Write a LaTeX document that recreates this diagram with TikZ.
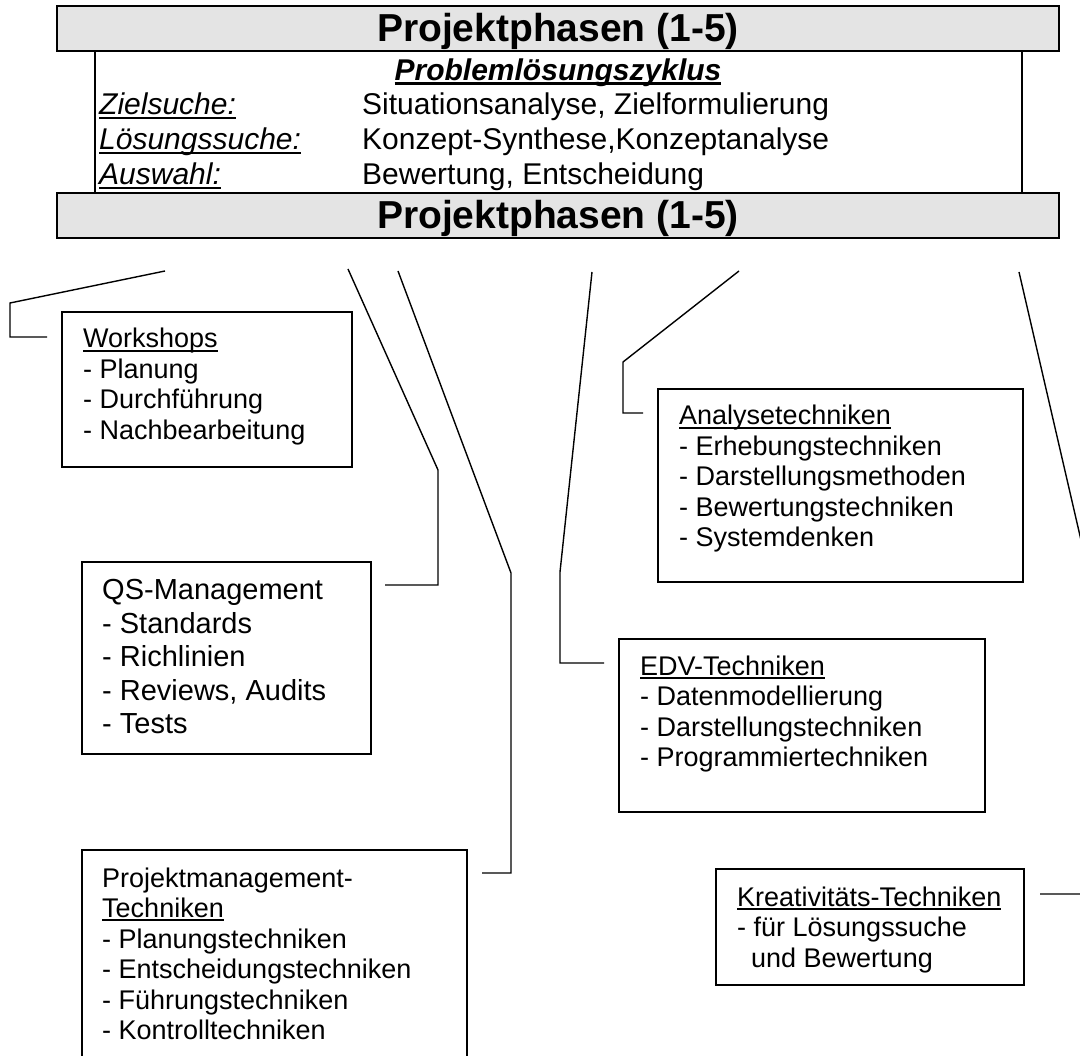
\documentclass[tikz,border=0pt]{standalone}
\usepackage{fontspec}
\setmainfont{Liberation Sans}
\definecolor{barfill}{RGB}{228,228,228}
\newsavebox\ulbox
\newcommand{\wul}[2][0.07em]{\sbox\ulbox{#2}\rlap{\rule[-0.14em]{\wd\ulbox}{#1}}\usebox\ulbox}
\begin{document}
\begin{tikzpicture}[x=1pt,y=-1pt,
  bar/.style={draw=black, line width=2.4pt, fill=barfill, inner sep=0pt},
  frame/.style={draw=black, line width=1.9pt, fill=white, inner sep=0pt},
  conn/.style={draw=black, line width=1.4pt, line join=miter},
  txt/.style={anchor=base west, inner sep=0pt},
  body/.style={txt, font=\fontsize{27}{30.5}\selectfont},
]
\useasboundingbox (0,0) rectangle (1080,1056);
\begin{scope}
\clip (0,0) rectangle (1080,1056);

% header block
\node[frame, minimum width=927pt, minimum height=142pt] (mid) at (558.5,122) {};
\node[bar, minimum width=1002pt, minimum height=45pt] (topbar) at (558,28.5) {};
\node[bar, minimum width=1002pt, minimum height=45pt] (botbar) at (558,215.5) {};
\node[anchor=base, inner sep=0pt, font=\fontsize{39}{45}\selectfont\bfseries] (toptitle) at (558,42) {Projektphasen (1-5)};
\node[anchor=base, inner sep=0pt, font=\fontsize{39}{45}\selectfont\bfseries] (bottitle) at (558,229) {Projektphasen (1-5)};
\node[anchor=base, inner sep=0pt, font=\fontsize{30}{35}\selectfont\bfseries\itshape] (zyklus) at (558,81) {\wul[0.1em]{Problemlösungszyklus}};
\node[txt, font=\fontsize{30}{35}\selectfont\itshape] (phasen) at (99,115)
  {\begin{tabular}[t]{@{}l@{}}\wul{Zielsuche:}\\\wul{Lösungssuche:}\\\wul{Auswahl:}\end{tabular}};
\node[txt, font=\fontsize{30}{35}\selectfont] (inhalte) at (362,115)
  {\begin{tabular}[t]{@{}l@{}}Situationsanalyse, Zielformulierung\\Konzept-Synthese,Konzeptanalyse\\Bewertung, Entscheidung\end{tabular}};

% boxes
\node[frame, minimum width=290pt, minimum height=155pt] (ws) at (207,389.5) {};
\node[body] (wstext) at (83,348)
  {\begin{tabular}[t]{@{}l@{}}\wul{Workshops}\\- Planung\\- Durchführung\\- Nachbearbeitung\end{tabular}};

\node[frame, minimum width=289pt, minimum height=192pt] (qs) at (226.5,658) {};
\node[txt, font=\fontsize{29}{33.5}\selectfont] (qstext) at (102,600)
  {\begin{tabular}[t]{@{}l@{}}QS-Management\\- Standards\\- Richlinien\\- Reviews, Audits\\- Tests\end{tabular}};

\node[frame, minimum width=385pt, minimum height=240pt] (pm) at (274.5,970) {};
\node[body] (pmtext) at (102,887)
  {\begin{tabular}[t]{@{}l@{}}Projektmanagement-\\\wul{Techniken}\\- Planungstechniken\\- Entscheidungstechniken\\- Führungstechniken\\- Kontrolltechniken\end{tabular}};

\node[frame, minimum width=365pt, minimum height=193pt] (an) at (840.5,485.5) {};
\node[body] (antext) at (679,425)
  {\begin{tabular}[t]{@{}l@{}}\wul{Analysetechniken}\\- Erhebungstechniken\\- Darstellungsmethoden\\- Bewertungstechniken\\- Systemdenken\end{tabular}};

\node[frame, minimum width=366pt, minimum height=173pt] (edv) at (802,725.5) {};
\node[body] (edvtext) at (640,675)
  {\begin{tabular}[t]{@{}l@{}}\wul{EDV-Techniken}\\- Datenmodellierung\\- Darstellungstechniken\\- Programmiertechniken\end{tabular}};

\node[frame, minimum width=308pt, minimum height=116pt] (kr) at (870,927) {};
\node[body] (krtext) at (737,906)
  {\begin{tabular}[t]{@{}l@{}}\wul{Kreativitäts-Techniken}\\- für Lösungssuche\\\hspace*{14pt}und Bewertung\end{tabular}};

% connectors
\coordinate (w1) at (165,271); \coordinate (w2) at (10,303);
\coordinate (w3) at (10,337);  \coordinate (w4) at (47,337);
\draw[conn] (w1) -- (w2) -- (w3) -- (w4);

\coordinate (q1) at (348,269); \coordinate (q2) at (438,470);
\coordinate (q3) at (438,585); \coordinate (q4) at (385,585);
\draw[conn] (q1) -- (q2) -- (q3) -- (q4);

\coordinate (p1) at (398,271); \coordinate (p2) at (511,573);
\coordinate (p3) at (511,873); \coordinate (p4) at (482,873);
\draw[conn] (p1) -- (p2) -- (p3) -- (p4);

\coordinate (e1) at (592,272); \coordinate (e2) at (560,572);
\coordinate (e3) at (560,663); \coordinate (e4) at (604,663);
\draw[conn] (e1) -- (e2) -- (e3) -- (e4);

\coordinate (a1) at (739,271); \coordinate (a2) at (623,362);
\coordinate (a3) at (623,413); \coordinate (a4) at (643,413);
\draw[conn] (a1) -- (a2) -- (a3) -- (a4);

\coordinate (r1) at (1019,272); \coordinate (r2) at (1093,592);
\coordinate (r3) at (1093,894); \coordinate (r4) at (1040,894);
\draw[conn] (r1) -- (r2) -- (r3) -- (r4);
\end{scope}
\end{tikzpicture}
\end{document}
